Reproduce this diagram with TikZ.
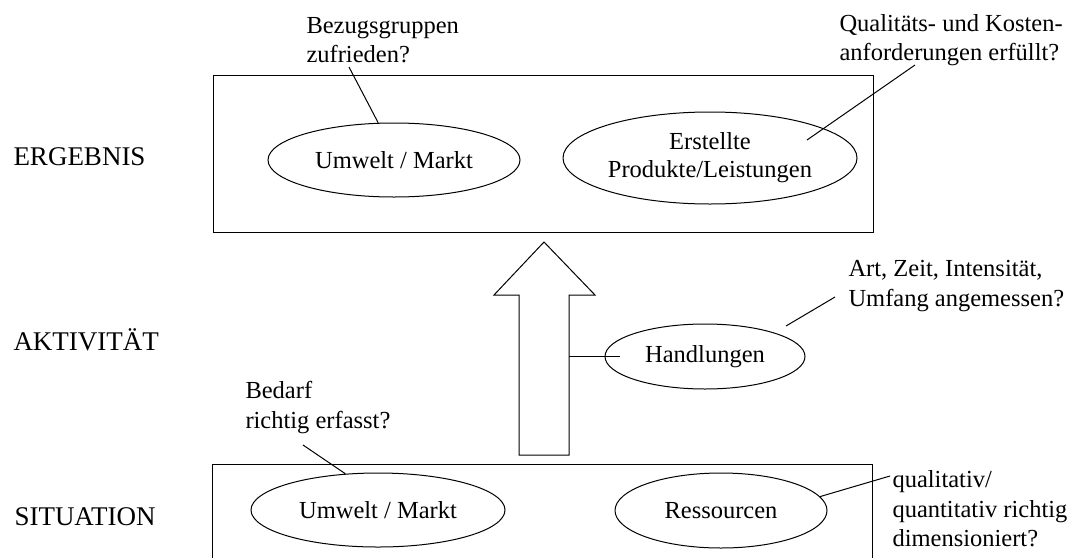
\documentclass[tikz,border=0pt]{standalone}
\usepackage{fontspec}
\setmainfont{Liberation Serif}
\usetikzlibrary{shapes.geometric}
\begin{document}
\begin{tikzpicture}[x=1pt,y=-1pt,line width=1pt,
  lvl/.style={anchor=west,inner sep=0pt,font=\fontsize{27}{32}\selectfont},
  txt/.style={anchor=west,inner sep=0pt,align=left,font=\fontsize{24.5}{29.5}\selectfont},
  ell/.style={draw,ellipse,inner sep=0pt,align=center,font=\fontsize{24.5}{28}\selectfont},
  box/.style={draw,inner sep=0pt}]
\clip (0,0) rectangle (1075,557);
\useasboundingbox (0,0) rectangle (1075,557);
% level labels
\node[lvl] (lE) at (13,157) {ERGEBNIS};
\node[lvl] (lA) at (13,340) {AKTIVITÄT};
\node[lvl] (lS) at (14,517) {SITUATION};
% boxes
\node[box,minimum width=660pt,minimum height=157pt] (topbox) at (543,153.5) {};
\node[box,minimum width=660pt,minimum height=110pt] (botbox) at (542,519) {};
% ellipses
\node[ell,minimum width=252pt,minimum height=74pt] (umwTop) at (394,160) {Umwelt / Markt};
\node[ell,minimum width=294pt,minimum height=92pt] (erst) at (710,158) {Erstellte\\Produkte/Leistungen};
\node[ell,minimum width=200pt,minimum height=65pt] (handl) at (705,356.5) {Handlungen};
\node[ell,minimum width=254pt,minimum height=74pt] (umwBot) at (378,510) {Umwelt / Markt};
\node[ell,minimum width=212pt,minimum height=75pt] (ress) at (721,510.5) {Ressourcen};
% big arrow
\draw (544,242) -- (595,295) -- (569,295) -- (569,455) -- (519,455) -- (519,295) -- (494,295) -- cycle;
\coordinate (shaftR) at (569,356);
\coordinate (hin) at (620,356);
\draw (shaftR) -- (hin);
% callout texts
\node[txt] (tBez) at (306,40) {Bezugsgruppen\\zufrieden?};
\node[txt] (tQual) at (839,40) {Qualitäts- und Kosten-\\anforderungen erfüllt?};
\node[txt] (tArt) at (848,286) {Art, Zeit, Intensität,\\Umfang angemessen?};
\node[txt] (tBed) at (245,407.5) {Bedarf\\richtig erfasst?};
\node[txt] (tRes) at (892,509) {qualitativ/\\quantitativ richtig\\dimensioniert?};
% callout lines
\coordinate (cBez) at (349,67);
\draw (cBez) -- (umwTop.113);
\coordinate (cQual) at (915,65);
\coordinate (qIn) at (807,140);
\draw (cQual) -- (qIn);
\coordinate (cArt) at (835,297);
\coordinate (aEnd) at (786,326);
\draw (cArt) -- (aEnd);
\coordinate (cBed) at (303,445);
\draw (cBed) -- (umwBot.132);
\coordinate (cRes) at (890,476);
\draw (cRes) -- (ress.8);
\end{tikzpicture}
\end{document}
